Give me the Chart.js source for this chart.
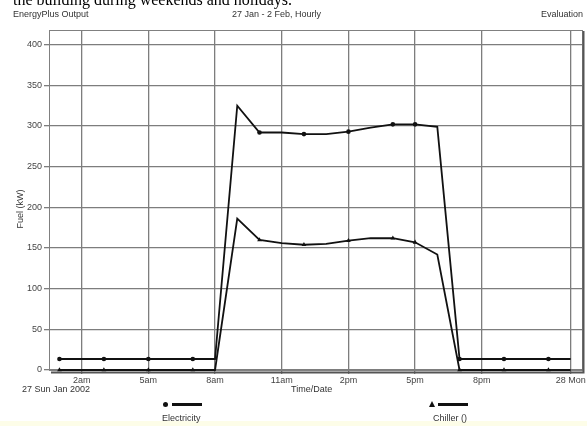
<!DOCTYPE html>
<html>
<head>
<meta charset="utf-8">
<script src="https://cdn.jsdelivr.net/npm/chart.js@4/dist/chart.umd.min.js"></script>
<style>
  html, body { margin:0; padding:0; background:#fff; }
  #wrap { position:relative; width:587px; height:426px; overflow:hidden; font-family:"Liberation Sans", Arial, sans-serif; color:#333; }
  canvas { position:absolute; left:0; top:0; }
  .t { position:absolute; font-size:9px; white-space:nowrap; line-height:10px; }
  .serif { position:absolute; left:13px; top:-9px; font-family:"Liberation Serif", serif; font-size:16px; line-height:18px; color:#000; white-space:nowrap; }
  .leg-line { position:absolute; height:3px; background:#111; }
  .dot { position:absolute; width:5px; height:5px; border-radius:50%; background:#111; }
  .tri { position:absolute; width:0; height:0; border-left:3px solid transparent; border-right:3px solid transparent; border-bottom:6px solid #111; }
  #yellow { position:absolute; left:0; top:421px; width:587px; height:5px; background:#fdfde8; }
</style>
</head>
<body>
<div id="wrap">
  <div id="yellow"></div>
  <canvas id="c" width="587" height="426"></canvas>
  <div class="serif">the building during weekends and holidays.</div>
  <div class="t" style="left:13px; top:9px;">EnergyPlus Output</div>
  <div class="t" style="left:232px; top:9px;">27 Jan - 2 Feb, Hourly</div>
  <div class="t" style="left:541px; top:9px;">Evaluation</div>
  <div class="t" style="left:0px; top:204px; transform:rotate(-90deg); transform-origin:center; width:40px; text-align:center;">Fuel (kW)</div>
  <div class="t" style="left:22px; top:384px;">27 Sun Jan 2002</div>
  <div class="t" style="left:291px; top:384px;">Time/Date</div>
  <div class="dot" style="left:163px; top:402px;"></div>
  <div class="leg-line" style="left:172px; top:403px; width:30px;"></div>
  <div class="t" style="left:162px; top:413px;">Electricity</div>
  <div class="tri" style="left:429px; top:401px;"></div>
  <div class="leg-line" style="left:438px; top:403px; width:30px;"></div>
  <div class="t" style="left:433px; top:413px;">Chiller ()</div>
</div>
<script>
// ---- data ----
const hours = [1,2,3,4,5,6,7,8,9,10,11,12,13,14,15,16,17,18,19,20,21,22,23,24];
const electricity = [13.5,13.5,13.5,13.5,13.5,13.5,13.5,13.5,325,292,292,290,290,293,298,302,302,299,13.5,13.5,13.5,13.5,13.5,13.5];
const chiller = [0,0,0,0,0,0,0,0,186,160,156,154,155,159,162,162,157,142,0,0,0,0,0,0];
const markerHours = [1,3,5,7,10,12,14,16,17,19,21,23];
const xTickHours = [2,5,8,11,14,17,20,24];
const xTickLabels = ["2am","5am","8am","11am","2pm","5pm","8pm","28 Mon"];
const yTicks = [0,50,100,150,200,250,300,350,400];

const toXY = arr => arr.map((v,i)=>({x:hours[i], y:v}));
const radiusFn = r => ctx => markerHours.includes(hours[ctx.dataIndex]) ? r : 0;

const frame = {
  id:'frame',
  beforeDatasetsDraw(chart){
    const {ctx, chartArea:a} = chart;
    ctx.save();
    ctx.strokeStyle = '#808080';
    ctx.lineWidth = 1;
    ctx.strokeRect(a.left+0.5, a.top+0.5, a.right-a.left, a.bottom-a.top);
    ctx.strokeStyle = '#555';
    ctx.lineWidth = 2;
    ctx.beginPath();
    ctx.moveTo(a.right+1.5, a.top+1); ctx.lineTo(a.right+1.5, a.bottom+2.5);
    ctx.lineTo(a.left+2, a.bottom+2.5);
    ctx.stroke();
    ctx.restore();
  }
};

new Chart(document.getElementById('c'), {
  type:'line',
  data:{
    datasets:[
      { label:'Electricity', data:toXY(electricity), borderColor:'#111', borderWidth:1.8, tension:0,
        pointStyle:'circle', pointRadius:radiusFn(2.3), pointBackgroundColor:'#111', pointBorderWidth:0, clip:4 },
      { label:'Chiller ()', data:toXY(chiller), borderColor:'#111', borderWidth:1.8, tension:0,
        pointStyle:'triangle', pointRadius:radiusFn(2.7), pointBackgroundColor:'#111', pointBorderWidth:0, clip:4 }
    ]
  },
  options:{
    responsive:false, animation:false, devicePixelRatio:1,
    layout:{ padding:{ left:0, top:30, right:5, bottom:0 } },
    plugins:{ legend:{display:false}, tooltip:{enabled:false} },
    scales:{
      x:{
        type:'linear', min:0.53, max:24.51,
        afterBuildTicks(s){ s.ticks = xTickHours.map(v=>({value:v})); },
        afterFit(s){ s.height = 56; },
        ticks:{ callback:(v,i)=>xTickLabels[i], autoSkip:false, maxRotation:0, color:'#444', padding:1,
          font:{family:'"Liberation Sans", Arial, sans-serif', size:9} },
        grid:{ color:'#7d7d7d', lineWidth:1.3, tickLength:4 },
        border:{ display:false }
      },
      y:{
        min:0, max:418,
        afterBuildTicks(s){ s.ticks = yTicks.map(v=>({value:v})); },
        afterFit(s){ s.width = 49; },
        ticks:{ color:'#444', padding:2, font:{family:'"Liberation Sans", Arial, sans-serif', size:9} },
        grid:{ color:'#7d7d7d', lineWidth:1.3, tickLength:5 },
        border:{ display:false }
      }
    }
  },
  plugins:[frame]
});
</script>
</body>
</html>
